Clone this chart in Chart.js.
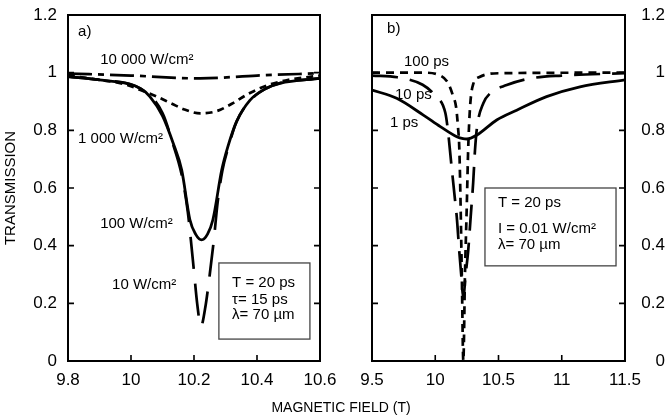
<!DOCTYPE html>
<html>
<head>
<meta charset="utf-8">
<script src="https://cdn.jsdelivr.net/npm/chart.js@4.4.0/dist/chart.umd.min.js"></script>
<style>
  html, body { margin: 0; padding: 0; background: #fff; }
  #wrap { position: relative; width: 665px; height: 419px; background: #fff; overflow: hidden; }
  canvas { position: absolute; left: 0; top: 0; }
  #xtitle { position: absolute; left: 0; width: 682px; top: 398px; text-align: center;
            font: 14px "Liberation Sans", Arial, sans-serif; color: #000; line-height: 18px; }
</style>
</head>
<body>
<div id="wrap">
  <canvas id="chartA" width="665" height="419"></canvas>
  <canvas id="chartB" width="665" height="419"></canvas>
  <div id="xtitle">MAGNETIC FIELD (T)</div>
</div>
<script>
// ---------- Panel a) : intensity series (T = 20 ps, tau = 15 ps) ----------
const xTicksA = [9.8, 10, 10.2, 10.4, 10.6];
const xTickLabelsA = ['9.8', '10', '10.2', '10.4', '10.6'];
const yTicks = [0, 0.2, 0.4, 0.6, 0.8, 1, 1.2];
const yTickLabels = ['0', '0.2', '0.4', '0.6', '0.8', '1', '1.2'];

const fieldA10000 = [9.8, 10.0, 10.22, 10.4, 10.6];
const transA10000 = [0.997, 0.99, 0.98, 0.99, 0.998];

const fieldA1000 = [9.8, 9.9, 9.98, 10.03, 10.08, 10.13, 10.17, 10.22, 10.27, 10.32, 10.37, 10.43, 10.5, 10.6];
const transA1000 = [0.99, 0.975, 0.96, 0.94, 0.918, 0.892, 0.872, 0.859, 0.866, 0.892, 0.925, 0.955, 0.975, 0.99];

const fieldA100 = [9.8, 9.9, 10.03, 10.06, 10.1, 10.134, 10.161, 10.187, 10.205, 10.224, 10.243, 10.26, 10.288, 10.308, 10.335, 10.378, 10.43, 10.473, 10.6];
const transA100 = [0.986, 0.975, 0.945, 0.917, 0.85, 0.755, 0.662, 0.49, 0.44, 0.42, 0.44, 0.49, 0.662, 0.745, 0.83, 0.905, 0.946, 0.963, 0.98];

const fieldA10 = [9.8, 9.9, 10.03, 10.1, 10.134, 10.16, 10.18, 10.19, 10.2, 10.21, 10.222, 10.235, 10.25, 10.263, 10.275, 10.29, 10.31, 10.335, 10.38, 10.43, 10.47, 10.6];
const transA10 = [0.986, 0.975, 0.945, 0.86, 0.75, 0.65, 0.52, 0.42, 0.31, 0.2, 0.12, 0.18, 0.3, 0.42, 0.55, 0.66, 0.745, 0.83, 0.905, 0.946, 0.963, 0.98];

// ---------- Panel b) : pulse-length series (T = 20 ps, I = 0.01 W/cm2) ----------
const xTicksB = [9.5, 10, 10.5, 11, 11.5];
const xTickLabelsB = ['9.5', '10', '10.5', '11', '11.5'];

const fieldB100 = [9.5, 9.9, 10.04, 10.1, 10.14, 10.165, 10.18, 10.19, 10.2, 10.21, 10.222, 10.235, 10.25, 10.26, 10.275, 10.3, 10.35, 10.5, 11.5];
const transB100 = [1.0, 1.0, 0.99, 0.965, 0.92, 0.88, 0.81, 0.74, 0.55, 0.3, 0.0, 0.3, 0.55, 0.73, 0.88, 0.96, 0.985, 0.998, 1.0];

const fieldB10 = [9.5, 9.7, 9.9, 10.0, 10.08, 10.1, 10.13, 10.156, 10.17, 10.19, 10.205, 10.222, 10.24, 10.26, 10.28, 10.3, 10.314, 10.33, 10.38, 10.433, 10.565, 10.75, 11.0, 11.5];
const transB10 = [0.99, 0.984, 0.958, 0.92, 0.86, 0.8, 0.67, 0.56, 0.5, 0.38, 0.3, 0.22, 0.3, 0.38, 0.5, 0.62, 0.73, 0.81, 0.894, 0.928, 0.957, 0.98, 0.99, 0.998];

const fieldB1 = [9.5, 9.695, 9.906, 10.04, 10.17, 10.22, 10.25, 10.33, 10.486, 10.644, 10.88, 11.144, 11.5];
const transB1 = [0.94, 0.911, 0.853, 0.813, 0.778, 0.771, 0.77, 0.784, 0.836, 0.87, 0.917, 0.951, 0.975];

// ---------- helpers ----------
const FONT = '"Liberation Sans", Arial, sans-serif';
function pts(xs, ys) { return xs.map((x, i) => ({ x: x, y: ys[i] })); }
function ds(label, xs, ys, dash, width) {
  return {
    label: label, data: pts(xs, ys), borderColor: '#000', backgroundColor: '#000',
    borderWidth: width || 2.7, borderDash: dash || [], pointRadius: 0,
    cubicInterpolationMode: 'monotone', fill: false, borderCapStyle: 'butt'
  };
}
function fixedTicks(arr) { return function (scale) { scale.ticks = arr.map(v => ({ value: v })); }; }
function noPad(s) { s.paddingTop = 0; s.paddingBottom = 0; s.paddingLeft = 0; s.paddingRight = 0; }

const framePlugin = {
  id: 'frameTicks',
  afterDatasetsDraw(chart) {
    const { ctx, chartArea: a, scales } = chart;
    const L = 6;
    ctx.save();
    ctx.strokeStyle = '#000';
    ctx.lineWidth = 1.6;
    ctx.beginPath();
    scales.x.ticks.forEach(t => {
      const px = scales.x.getPixelForValue(t.value);
      if (px > a.left + 2 && px < a.right - 2) { ctx.moveTo(px, a.bottom); ctx.lineTo(px, a.bottom - L); }
    });
    scales.y.ticks.forEach(t => {
      const py = scales.y.getPixelForValue(t.value);
      if (py > a.top + 2 && py < a.bottom - 2) {
        ctx.moveTo(a.left, py); ctx.lineTo(a.left + L, py);
        ctx.moveTo(a.right, py); ctx.lineTo(a.right - L, py);
      }
    });
    ctx.stroke();
    ctx.lineWidth = 2;
    ctx.strokeRect(a.left, a.top, a.right - a.left, a.bottom - a.top);
    ctx.restore();
  }
};

const notesPlugin = {
  id: 'notes',
  afterDraw(chart, args, opts) {
    const { ctx, scales } = chart;
    const X = v => scales.x.getPixelForValue(v);
    const Y = v => scales.y.getPixelForValue(v);
    ctx.save();
    ctx.fillStyle = '#000';
    ctx.textBaseline = 'middle';
    ctx.textAlign = 'left';
    (opts.labels || []).forEach(l => {
      ctx.font = (l.size || 15) + 'px ' + FONT;
      ctx.fillText(l.text, X(l.x), Y(l.y));
    });
    if (opts.box) {
      const b = opts.box;
      ctx.strokeStyle = '#444';
      ctx.lineWidth = 1.3;
      ctx.fillStyle = '#fff';
      ctx.fillRect(X(b.x0), Y(b.y1), X(b.x1) - X(b.x0), Y(b.y0) - Y(b.y1));
      ctx.strokeRect(X(b.x0), Y(b.y1), X(b.x1) - X(b.x0), Y(b.y0) - Y(b.y1));
      ctx.fillStyle = '#000';
      ctx.font = '15px ' + FONT;
      b.lines.forEach(l => ctx.fillText(l.text, X(l.x), Y(l.y)));
    }
    ctx.restore();
  }
};

function baseScales(xmin, xmax, xticks, xlabels, yPos, yOpts) {
  return {
    x: {
      type: 'linear', min: xmin, max: xmax,
      afterBuildTicks: fixedTicks(xticks),
      afterFit: s => { s.height = 58; noPad(s); },
      grid: { display: false, drawTicks: false },
      border: { display: false },
      ticks: { color: '#000', font: { size: 17, family: FONT }, padding: 9, maxRotation: 0, autoSkip: false,
               callback: (v, i) => xlabels[i] }
    },
    y: Object.assign({
      type: 'linear', min: 0, max: 1.2, position: yPos,
      afterBuildTicks: fixedTicks(yTicks),
      grid: { display: false, drawTicks: false },
      border: { display: false },
    }, yOpts)
  };
}

Chart.defaults.font.family = FONT;

new Chart(document.getElementById('chartA'), {
  type: 'line',
  data: {
    datasets: [
      ds('10 000 W/cm²', fieldA10000, transA10000, [24, 6, 6, 6]),
      ds('1 000 W/cm²', fieldA1000, transA1000, [7, 5]),
      ds('10 W/cm²', fieldA10, transA10, [32, 15]),
      ds('100 W/cm²', fieldA100, transA100, [], 2.8)
    ]
  },
  options: {
    responsive: false, animation: false, devicePixelRatio: 1,
    layout: { padding: { top: 15, right: 345, left: 0, bottom: 0 } },
    plugins: {
      legend: { display: false }, tooltip: { enabled: false },
      notes: {
        labels: [
          { text: 'a)', x: 9.832, y: 1.141 },
          { text: '10 000 W/cm²', x: 9.902, y: 1.044 },
          { text: '1 000 W/cm²', x: 9.832, y: 0.77 },
          { text: '100 W/cm²', x: 9.902, y: 0.475 },
          { text: '10 W/cm²', x: 9.94, y: 0.264 }
        ],
        box: {
          x0: 10.279, x1: 10.568, y0: 0.076, y1: 0.34,
          lines: [
            { text: 'T = 20 ps', x: 10.321, y: 0.272 },
            { text: 'τ= 15 ps', x: 10.321, y: 0.213 },
            { text: 'λ= 70 µm', x: 10.321, y: 0.16 }
          ]
        }
      }
    },
    scales: baseScales(9.8, 10.6, xTicksA, xTickLabelsA, 'left', {
      afterFit: s => { s.width = 68; noPad(s); },
      ticks: { color: '#000', font: { size: 17, family: FONT }, padding: 11, callback: (v, i) => yTickLabels[i] },
      title: { display: true, text: 'TRANSMISSION', color: '#000', font: { size: 15, family: FONT }, padding: { top: 2, bottom: 0 } }
    })
  },
  plugins: [framePlugin, notesPlugin]
});

new Chart(document.getElementById('chartB'), {
  type: 'line',
  data: {
    datasets: [
      ds('100 ps', fieldB100, transB100, [8, 6]),
      ds('10 ps', fieldB10, transB10, [26, 12]),
      ds('1 ps', fieldB1, transB1, [], 2.8)
    ]
  },
  options: {
    responsive: false, animation: false, devicePixelRatio: 1,
    layout: { padding: { top: 15, right: 0, left: 372, bottom: 0 } },
    plugins: {
      legend: { display: false }, tooltip: { enabled: false },
      notes: {
        labels: [
          { text: 'b)', x: 9.619, y: 1.152 },
          { text: '100 ps', x: 9.753, y: 1.037 },
          { text: '10 ps', x: 9.682, y: 0.923 },
          { text: '1 ps', x: 9.642, y: 0.826 }
        ],
        box: {
          x0: 10.393, x1: 11.429, y0: 0.33, y1: 0.6,
          lines: [
            { text: 'T = 20 ps', x: 10.496, y: 0.548 },
            { text: 'I = 0.01 W/cm²', x: 10.496, y: 0.458 },
            { text: 'λ= 70 µm', x: 10.496, y: 0.402 }
          ]
        }
      }
    },
    scales: baseScales(9.5, 11.5, xTicksB, xTickLabelsB, 'right', {
      afterFit: s => { s.width = 40; noPad(s); },
      ticks: { color: '#000', font: { size: 17, family: FONT }, padding: 10, crossAlign: 'far', callback: (v, i) => yTickLabels[i] }
    })
  },
  plugins: [framePlugin, notesPlugin]
});
</script>
</body>
</html>
